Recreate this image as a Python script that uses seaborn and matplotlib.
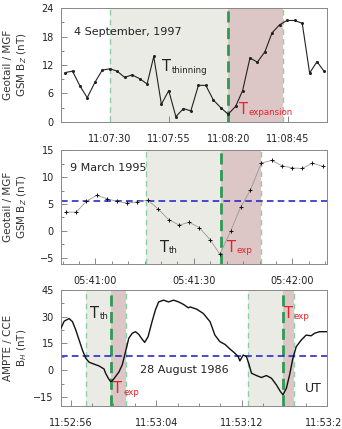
import numpy as np
import pandas as pd
import seaborn as sns
import matplotlib.pyplot as plt
from matplotlib.ticker import MultipleLocator

# panel 1: Geotail/MGF 4 September 1997, seconds after 11:07:30
t1 = [-18.7, -15.6, -12.4, -9.4, -6.1, -3.1, 0.1, 3.2, 6.3, 9.5, 12.7, 15.8,
      18.6, 21.8, 24.9, 27.9, 31.1, 34.2, 37.4, 40.5, 43.7, 46.8, 49.9, 53.1,
      56.0, 59.1, 62.2, 65.4, 68.4, 71.6, 74.7, 77.9, 81.1, 84.2, 87.3, 90.1]
bz1 = [10.4, 10.7, 7.5, 5.1, 8.4, 10.9, 11.2, 10.7, 9.4, 9.9, 9.1, 8.0,
       13.8, 3.7, 6.6, 1.1, 2.8, 2.3, 7.7, 7.7, 4.6, 3.0, 1.6, 3.3,
       6.6, 13.5, 12.6, 14.8, 18.8, 20.5, 21.4, 21.4, 20.8, 10.3, 12.7, 10.8]
ticks1 = [0, 25, 50, 75]
labels1 = ['11:07:30', '11:07:55', '11:08:20', '11:08:45']
phases1 = [0, 50, 72.8]  # thinning start, expansion onset, expansion end

# panel 2: Geotail/MGF 9 March 1995, seconds after 05:41:00
t2 = [-9.0, -5.8, -2.8, 0.4, 3.5, 6.5, 9.7, 12.8, 16.0, 19.1, 22.3, 25.5,
      28.6, 31.7, 34.9, 37.9, 41.2, 44.2, 47.2, 50.5, 53.7, 56.8, 60.0,
      63.0, 66.0, 69.2]
bz2 = [3.5, 3.5, 5.5, 6.6, 6.0, 5.5, 5.2, 5.4, 5.7, 4.1, 2.1, 1.1,
       1.6, 0.6, -1.6, -4.3, 0.0, 4.4, 7.6, 12.6, 13.1, 12.1, 11.7,
       11.6, 12.6, 12.0]
ticks2 = [0, 30, 60]
labels2 = ['05:41:00', '05:41:30', '05:42:00']
phases2 = [15.3, 38.1, 50.3]
level2 = 5.6

# panel 3: AMPTE/CCE 28 August 1986, seconds after 11:52:56
t3 = [-0.93, -0.62, -0.16, 0.16, 0.47, 0.78, 1.09, 1.40, 1.71, 2.18, 2.64,
      3.11, 3.26, 3.51, 3.73, 3.88, 4.19, 4.50, 4.82, 5.13, 5.43, 5.75,
      6.06, 6.37, 6.62, 6.92, 7.24, 7.61, 7.92, 8.23, 8.69, 9.16, 9.63,
      10.1, 10.56, 11.02, 11.18, 11.81, 12.42, 13.05, 13.5, 13.97, 14.44,
      14.91, 15.38, 15.69, 15.84, 16.15, 16.46, 16.71, 16.93, 17.4, 17.86,
      18.33, 18.8, 19.26, 19.64, 19.88, 20.2, 20.5, 20.81, 21.12, 21.59,
      22.05, 22.52, 22.83, 23.3, 24.0]
bh3 = [23.5, 27.5, 29.0, 27.2, 22.5, 16.9, 11.3, 6.7, 4.5, 3.4, 2.4,
       0.7, -1.7, -4.5, -6.4, -6.0, -3.6, -1.1, 3.0, 10.4, 17.9, 20.7,
       21.6, 20.1, 17.9, 15.6, 18.8, 27.2, 33.7, 38.3, 39.3, 38.3, 39.3,
       38.3, 36.9, 35.0, 35.5, 34.2, 31.8, 27.2, 19.7, 16.0, 14.5,
       11.9, 9.5, 7.6, 5.2, 8.5, 7.6, 3.0, -1.7, -3.0, -4.1,
       -3.0, -4.5, -8.2, -12.0, -13.8, -10.1, -2.6, 6.7, 13.2, 16.9,
       19.7, 19.3, 20.7, 21.6, 21.6]
ticks3 = [0, 8, 16, 24]
labels3 = ['11:52:56', '11:53:04', '11:53:12', '11:53:20']
phases3a = [1.40, 3.73, 5.13]
phases3b = [16.6, 19.88, 20.9]
level3 = 8.0

GREY = '#ebebe6'
RED = '#dcc6c6'
GREEN = '#2e9a55'
LGREEN = '#8ccfa6'
BLUE = '#2b2bc8'
TRED = '#e8202a'

sns.set_theme(style='white')
plt.rcParams['font.family'] = ['DejaVu Sans']


def shade(ax, ph):
    ax.axvspan(ph[0], ph[1], color=GREY, lw=0, zorder=0)
    ax.axvspan(ph[1], ph[2], color=RED, lw=0, zorder=0)
    ax.axvline(ph[0], color=LGREEN, ls=(0, (4, 3)), lw=1.0, zorder=1)
    ax.axvline(ph[2], color=LGREEN, ls=(0, (4, 3)), lw=1.0, zorder=1)
    ax.axvline(ph[1], color=GREEN, ls=(0, (4, 2)), lw=2.0, zorder=1)


def tlabel(ax, x, y, sub, color):
    # big T with a small subscript
    t = ax.text(x, y, 'T', fontsize=10.5, va='center', color=color)
    ax.annotate(sub, xy=(1, 0.28), xycoords=t, xytext=(0.4, 0),
                textcoords='offset points', fontsize=6.2, va='center',
                ha='left', color=color)


def style(ax, ticks, labels, ymaj, ymin, xmin, ylab):
    ax.set_xticks(ticks)
    ax.set_xticklabels(labels)
    ax.xaxis.set_minor_locator(MultipleLocator(xmin))
    ax.yaxis.set_major_locator(MultipleLocator(ymaj))
    ax.yaxis.set_minor_locator(MultipleLocator(ymin))
    ax.tick_params(axis='both', which='major', labelsize=7, direction='in',
                   length=4, width=0.6, color='#777', pad=5, left=True,
                   bottom=True, labelcolor='#222')
    ax.tick_params(axis='both', which='minor', direction='in', length=2.5,
                   width=0.6, color='#777', left=True, bottom=True)
    ax.tick_params(axis='x', which='major', pad=9)
    for s in ax.spines.values():
        s.set_color('#888')
        s.set_linewidth(0.7)
    ax.set_xlabel('')
    ax.set_ylabel(ylab, fontsize=7.5, color='#333', va='center')
    ax.yaxis.set_label_coords(-0.168, 0.5)


fig = plt.figure(figsize=(3.42, 4.29), dpi=100)
ax1 = fig.add_axes([0.178, 0.716, 0.778, 0.265])
ax2 = fig.add_axes([0.178, 0.385, 0.778, 0.265])
ax3 = fig.add_axes([0.178, 0.054, 0.778, 0.270])

# panel 1
shade(ax1, phases1)
sns.lineplot(x=t1, y=bz1, ax=ax1, color='#222', lw=0.8, marker='o',
             markersize=2.2, markeredgewidth=0, zorder=3)
ax1.set_xlim(-20.5, 91.5)
ax1.set_ylim(0, 24)
style(ax1, ticks1, labels1, 6, 3, 100, 'Geotail / MGF\nGSM B$_Z$ (nT)')
ax1.text(-15.1, 18.9, '4 September, 1997', fontsize=8, va='center',
         color='#222')
tlabel(ax1, 22.1, 11.6, 'thinning', '#222')
tlabel(ax1, 54.6, 2.6, 'expansion', TRED)

# panel 2
shade(ax2, phases2)
ax2.axhline(level2, color=BLUE, ls=(0, (4, 2.5)), lw=1.2, zorder=2)
sns.lineplot(x=t2, y=bz2, ax=ax2, color='#999', lw=0.6, marker='+',
             markersize=3, markeredgecolor='#111', markeredgewidth=0.7,
             zorder=3)
ax2.set_xlim(-10.5, 70.5)
ax2.set_ylim(-6.1, 15)
style(ax2, ticks2, labels2, 5, 2.5, 5, 'Geotail / MGF\nGSM B$_Z$ (nT)')
ax2.text(-7.8, 11.6, '9 March 1995', fontsize=8, va='center',
         color='#222')
tlabel(ax2, 19.6, -3.0, 'th', '#222')
tlabel(ax2, 40.2, -3.0, 'exp', TRED)

# panel 3
shade(ax3, phases3a)
shade(ax3, phases3b)
ax3.axhline(level3, color=BLUE, ls=(0, (4, 2.5)), lw=1.2, zorder=2)
sns.lineplot(x=t3, y=bh3, ax=ax3, color='#111', lw=1.0, zorder=3)
ax3.set_xlim(-0.93, 24)
ax3.set_ylim(-20, 45)
style(ax3, ticks3, labels3, 15, 7.5, 2, 'AMPTE / CCE\nB$_H$ (nT)')
tlabel(ax3, 1.8, 31.8, 'th', '#222')
tlabel(ax3, 4.0, -10.5, 'exp', TRED)
tlabel(ax3, 20.0, 31.8, 'exp', TRED)
ax3.text(6.5, 0.2, '28 August 1986', fontsize=8, va='center',
         color='#222')
ax3.text(21.9, -10.5, 'UT', fontsize=9, va='center', color='#222')

fig.savefig('out.png', dpi=100)
